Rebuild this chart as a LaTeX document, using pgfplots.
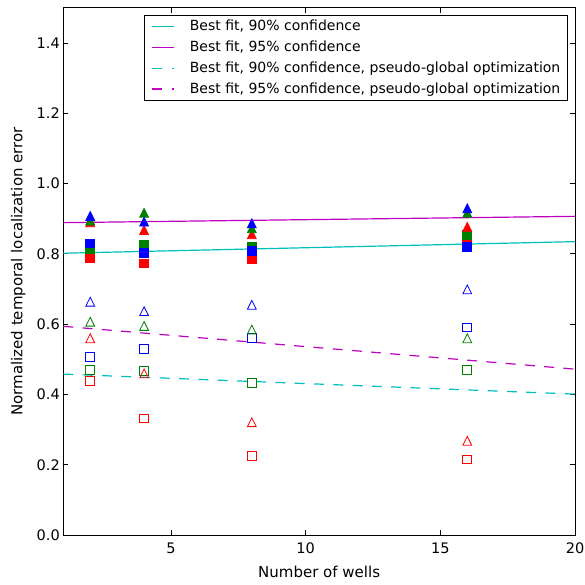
\documentclass[border=0pt]{standalone}
\usepackage{fontspec}
\setmainfont{DejaVu Sans}
\usepackage{pgfplots}
\pgfplotsset{compat=1.18}
\definecolor{mc}{rgb}{0,0.75,0.75}
\definecolor{mm}{rgb}{0.75,0,0.75}
\definecolor{mg}{rgb}{0,0.5,0}
% matplotlib-style markers (data point = centre of the bounding box)
\pgfdeclareplotmark{ftri}{%
  \pgfpathmoveto{\pgfqpoint{0pt}{\pgfplotmarksize}}%
  \pgfpathlineto{\pgfqpoint{-\pgfplotmarksize}{-\pgfplotmarksize}}%
  \pgfpathlineto{\pgfqpoint{\pgfplotmarksize}{-\pgfplotmarksize}}%
  \pgfpathclose\pgfusepathqfillstroke}
\pgfdeclareplotmark{otri}{%
  \pgfpathmoveto{\pgfqpoint{0pt}{\pgfplotmarksize}}%
  \pgfpathlineto{\pgfqpoint{-\pgfplotmarksize}{-\pgfplotmarksize}}%
  \pgfpathlineto{\pgfqpoint{\pgfplotmarksize}{-\pgfplotmarksize}}%
  \pgfpathclose\pgfusepathqstroke}
\begin{document}
\begin{tikzpicture}
\path[use as bounding box] (-63.3pt,-50pt) rectangle (521.7pt,535pt);
\begin{axis}[
  at={(0pt,0pt)}, anchor=south west,
  scale only axis, width=511.7pt, height=527pt,
  xmin=1, xmax=20, ymin=0, ymax=1.5,
  xtick={5,10,15,20},
  ytick={0,0.2,0.4,0.6,0.8,1.0,1.2,1.4},
  tick align=inside,
  major tick length=5pt,
  minor tick num=0,
  axis line style={line width=1pt},
  every tick/.style={black, line width=1pt},
  /pgf/number format/assume math mode=true,
  yticklabel style={/pgf/number format/.cd, fixed, fixed zerofill, precision=1},
  tick label style={font=\fontsize{14.5}{17}\selectfont},
  xticklabel style={anchor=base, yshift=-18.3pt},
  xlabel={Number of wells},
  ylabel={Normalized temporal localization error},
  every axis x label/.style={at={(axis description cs:0.5,0)}, anchor=base,
    yshift=-42.3pt, font=\fontsize{15}{18}\selectfont},
  every axis y label/.style={at={(axis description cs:-0.088,0.5)}, rotate=90,
    anchor=center, font=\fontsize{15}{18}\selectfont},
  legend style={at={(axis description cs:1,1)}, anchor=north east,
    xshift=-7.3pt, yshift=-7.3pt, draw=black, line width=0.8pt,
    font=\fontsize{14}{16}\selectfont, inner xsep=7pt, inner ysep=4pt,
    column sep=15pt, row sep=6.8pt,
    nodes={inner sep=0pt, text height=11pt, text depth=3pt}},
  legend cell align=left,
  legend image code/.code={\draw[#1, line width=1.3pt] (0pt,0pt) -- (22pt,0pt);},
]
% filled markers
\addplot[only marks, mark=square*, mark size=4.4pt, red, line width=0.8pt, forget plot]
  coordinates {(2,0.787) (4,0.773) (8,0.785) (16,0.837)};
\addplot[only marks, mark=square*, mark size=4.4pt, mg, line width=0.8pt, forget plot]
  coordinates {(2,0.813) (4,0.825) (8,0.820) (16,0.854)};
\addplot[only marks, mark=square*, mark size=4.4pt, blue, line width=0.8pt, forget plot]
  coordinates {(2,0.830) (4,0.803) (8,0.809) (16,0.819)};
\addplot[only marks, mark=ftri, mark size=4.4pt, red, line width=0.8pt, forget plot]
  coordinates {(2,0.890) (4,0.868) (8,0.856) (16,0.877)};
\addplot[only marks, mark=ftri, mark size=4.4pt, mg, line width=0.8pt, forget plot]
  coordinates {(2,0.895) (4,0.917) (8,0.873) (16,0.917)};
\addplot[only marks, mark=ftri, mark size=4.4pt, blue, line width=0.8pt, forget plot]
  coordinates {(2,0.908) (4,0.892) (8,0.887) (16,0.930)};
% open markers
\addplot[only marks, mark=square, mark size=4.4pt, red, line width=0.8pt, forget plot]
  coordinates {(2,0.438) (4,0.332) (8,0.226) (16,0.215)};
\addplot[only marks, mark=square, mark size=4.4pt, mg, line width=0.8pt, forget plot]
  coordinates {(2,0.470) (4,0.468) (8,0.432) (16,0.470)};
\addplot[only marks, mark=square, mark size=4.4pt, blue, line width=0.8pt, forget plot]
  coordinates {(2,0.508) (4,0.530) (8,0.561) (16,0.591)};
\addplot[only marks, mark=otri, mark size=4.4pt, red, line width=0.8pt, forget plot]
  coordinates {(2,0.560) (4,0.460) (8,0.321) (16,0.268)};
\addplot[only marks, mark=otri, mark size=4.4pt, mg, line width=0.8pt, forget plot]
  coordinates {(2,0.607) (4,0.595) (8,0.585) (16,0.560)};
\addplot[only marks, mark=otri, mark size=4.4pt, blue, line width=0.8pt, forget plot]
  coordinates {(2,0.664) (4,0.637) (8,0.655) (16,0.699)};
% fit lines
\addplot[mc, line width=1.2pt, no marks] coordinates {(1,0.802) (20,0.835)};
\addlegendentry{Best fit, 90\% confidence}
\addplot[mm, line width=1.2pt, no marks] coordinates {(1,0.889) (20,0.907)};
\addlegendentry{Best fit, 95\% confidence}
\addplot[mc, line width=1.2pt, no marks, dash pattern=on 10pt off 9.3pt] coordinates {(1,0.458) (20,0.401)};
\addlegendentry{Best fit, 90\% confidence, pseudo-global optimization}
\addplot[mm, line width=1.2pt, no marks, dash pattern=on 10pt off 9.3pt] coordinates {(1,0.594) (20,0.472)};
\addlegendentry{Best fit, 95\% confidence, pseudo-global optimization}
\end{axis}
\end{tikzpicture}
\end{document}
